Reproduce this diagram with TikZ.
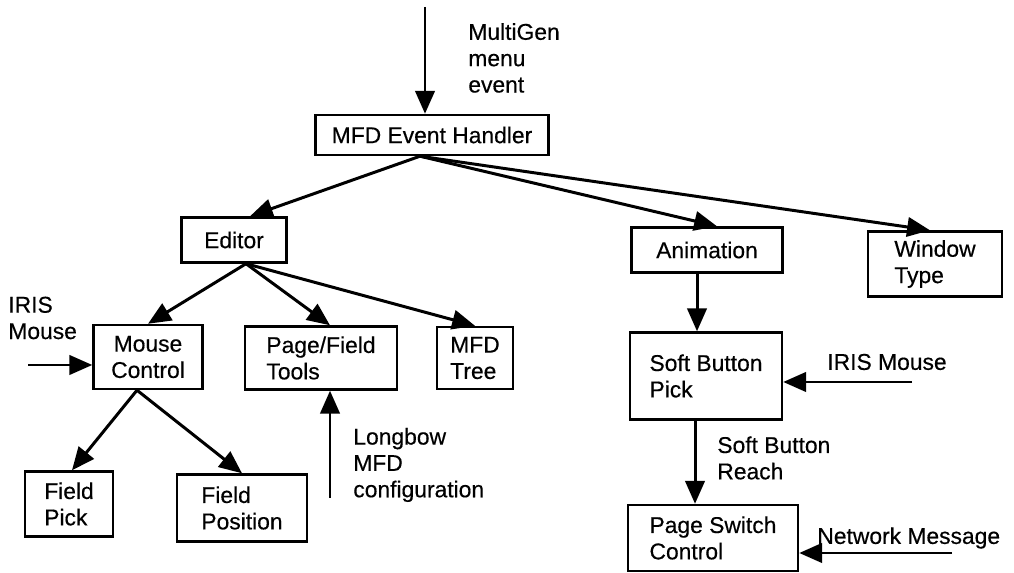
\documentclass[tikz,border=0pt]{standalone}
\usepackage{fontspec}
\setmainfont{Liberation Sans}[FakeBold=0.4]
\usetikzlibrary{arrows.meta, calc}

\begin{document}
\begin{tikzpicture}[x=0.02cm, y=-0.02cm, font=\fontsize{13}{15}\selectfont]
    \tikzstyle{block} = [rectangle, draw=black, line width=1.4pt, align=left, inner sep=3pt]
    \tikzstyle{note} = [inner sep=0pt, align=left, anchor=west]
    \tikzstyle{arrow} = [line width=1.7pt, -{Triangle[length=13pt, width=11pt]}]

    \useasboundingbox (0,0) rectangle (1014,573);

    % boxes
    \node (handler) [block, minimum width=4.66cm, minimum height=0.8cm] at (432,135) {MFD Event Handler};
    \node (editor) [block, minimum width=2.1cm, minimum height=0.9cm] at (234,240) {Editor};
    \node (animation) [block, minimum width=3.02cm, minimum height=0.9cm] at (707,250) {Animation};
    \node (window) [block, minimum width=2.68cm, minimum height=1.3cm] at (935,264) {Window\\Type};
    \node (mouse) [block, align=center, minimum width=2.18cm, minimum height=1.28cm] at (148,357) {Mouse\\Control};
    \node (pagefield) [block, minimum width=3.04cm, minimum height=1.26cm] at (321,358) {Page/Field\\Tools};
    \node (mfdtree) [block, minimum width=1.52cm, minimum height=1.24cm] at (475,358) {MFD\\Tree};
    \node (fieldpick) [block, minimum width=1.76cm, minimum height=1.3cm] at (69,504) {Field\\Pick};
    \node (fieldpos) [block, minimum width=2.6cm, minimum height=1.34cm] at (242,508) {Field\\Position};
    \node (softpick) [block, minimum width=3.04cm, minimum height=1.74cm] at (706,376) {Soft Button\\Pick};
    \node (pageswitch) [block, minimum width=3.4cm, minimum height=1.32cm] at (713,538) {Page Switch\\Control};

    % outside inputs
    \coordinate (menuin) at (425,7);
    \coordinate (irisleft) at (28,365);
    \coordinate (longbow) at (330,498);
    \coordinate (irisright) at (912,382);
    \coordinate (network) at (952,553);

    \node (menutext) [note] at (468,58) {MultiGen\\menu\\event};
    \node (iristext1) [note] at (8,318) {IRIS\\Mouse};
    \node (longbowtext) [note] at (353,465) {Longbow\\MFD\\configuration};
    \node (iristext2) [note] at (827,362) {IRIS Mouse};
    \node (reachtext) [note] at (717,458) {Soft Button\\Reach};
    \node (networktext) [note] at (817,538) {Network Message};

    % connectors
    \draw [arrow] (menuin) -- (menuin |- handler.north);
    \draw [arrow] ($(handler.south)+(-12,0)$) -- ($(editor.north)+(16,0)$);
    \draw [arrow] ($(handler.south)+(-12,0)$) -- ($(animation.north)+(10,0)$);
    \draw [arrow] ($(handler.south)+(-12,0)$) -- ($(window.north)+(-5,0)$);

    \draw [arrow] ($(editor.south)+(12,0)$) -- (mouse.north);
    \draw [arrow] ($(editor.south)+(12,0)$) -- ($(pagefield.north)+(9,0)$);
    \draw [arrow] ($(editor.south)+(12,0)$) -- (mfdtree.north);

    \draw [arrow] ($(mouse.south)+(-11,0)$) -- ($(fieldpick.north)+(3,0)$);
    \draw [arrow] ($(mouse.south)+(-11,0)$) -- (fieldpos.north);
    \draw [arrow] (irisleft) -- (irisleft -| mouse.west);
    \draw [arrow] (longbow) -- (longbow |- pagefield.south);

    \draw [arrow] ($(animation.south)+(-10,0)$) -- ($(softpick.north)+(-9,0)$);
    \draw [arrow] (irisright) -- (irisright -| softpick.east);
    \draw [arrow] ($(softpick.south)+(-11,0)$) -- ($(pageswitch.north)+(-18,0)$);
    \draw [arrow] (network) -- (network -| pageswitch.east);
\end{tikzpicture}
\end{document}
